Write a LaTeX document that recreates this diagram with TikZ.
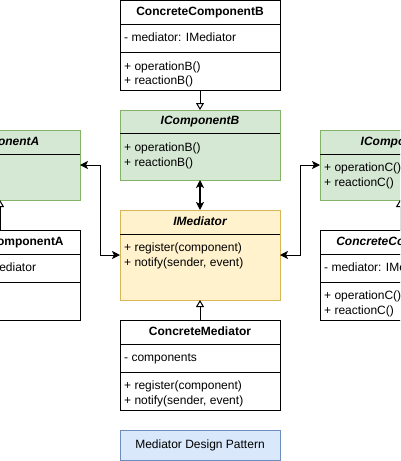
\documentclass[tikz,border=0pt]{standalone}
\usepackage{fontspec}
\setmainfont{Liberation Sans}
\usetikzlibrary{arrows.meta}
\definecolor{grnF}{HTML}{D5E8D4}\definecolor{grnD}{HTML}{82B366}
\definecolor{ylwF}{HTML}{FFF2CC}\definecolor{ylwD}{HTML}{D6B656}
\definecolor{bluF}{HTML}{DAE8FC}\definecolor{bluD}{HTML}{6C8EBF}
\tikzset{
  cls/.style={draw=black, fill=white, line width=1pt, minimum width=160pt, inner sep=0pt, outer sep=0pt, anchor=north},
  grn/.style={cls, draw=grnD, fill=grnF},
  ylw/.style={cls, draw=ylwD, fill=ylwF},
  blu/.style={cls, draw=bluD, fill=bluF},
  hdr/.style={font=\fontsize{12}{14.4}\selectfont\bfseries, inner sep=0pt, text height=8.6pt, text depth=2.4pt},
  hdri/.style={hdr, font=\fontsize{12}{14.4}\selectfont\bfseries\itshape},
  atxt/.style={font=\fontsize{12}{14.4}\selectfont, inner sep=0pt, anchor=west, text height=8.6pt, text depth=2.4pt},
  mtxt/.style={font=\fontsize{12}{14.4}\selectfont, inner sep=0pt, anchor=north west, align=left},
  clsep/.style={line width=1pt, draw=black},
  inh/.style={line width=1pt, -{Triangle[open, length=7pt, width=8pt, fill=white]}},
  bi/.style={line width=1pt, {Stealth[length=8pt, width=8pt, inset=2pt]}-{Stealth[length=8pt, width=8pt, inset=2pt]}},
}
\begin{document}
\begin{tikzpicture}[x=1pt, y=-1pt]
\clip (0,0) rectangle (400,461);
\fill[white] (0,0) rectangle (400,461);

% ConcreteComponentB
\node[cls, minimum height=90pt] (ccb) at (200,0.5) {};
\node[hdr] (ccb-h) at ([yshift=-12pt]ccb.north) {ConcreteComponentB};
\draw[clsep] ([yshift=-24pt]ccb.north west) -- ([yshift=-24pt]ccb.north east);
\node[atxt] (ccb-a) at ([xshift=4pt, yshift=-38pt]ccb.north west) {- mediator: IMediator};
\draw[clsep] ([yshift=-52pt]ccb.north west) -- ([yshift=-52pt]ccb.north east);
\node[mtxt] (ccb-m) at ([xshift=4pt, yshift=-61pt]ccb.north west) {+ operationB()\\+ reactionB()};

% IComponentB
\node[grn, minimum height=70pt] (cb) at (200,110) {};
\node[hdri] (cb-h) at ([yshift=-11.5pt]cb.north) {IComponentB};
\draw[clsep] ([yshift=-23pt]cb.north west) -- ([yshift=-23pt]cb.north east);
\node[mtxt] (cb-m) at ([xshift=4pt, yshift=-33pt]cb.north west) {+ operationB()\\+ reactionB()};

% IMediator
\node[ylw, minimum height=90pt] (med) at (200,210) {};
\node[hdri] (med-h) at ([yshift=-12pt]med.north) {IMediator};
\draw[clsep] ([yshift=-24pt]med.north west) -- ([yshift=-24pt]med.north east);
\node[mtxt] (med-m) at ([xshift=4pt, yshift=-33pt]med.north west) {+ register(component)\\+ notify(sender, event)};

% ConcreteMediator
\node[cls, minimum height=90pt] (cm) at (200,320) {};
\node[hdr] (cm-h) at ([yshift=-12pt]cm.north) {ConcreteMediator};
\draw[clsep] ([yshift=-24pt]cm.north west) -- ([yshift=-24pt]cm.north east);
\node[atxt] (cm-a) at ([xshift=4pt, yshift=-38pt]cm.north west) {- components};
\draw[clsep] ([yshift=-52pt]cm.north west) -- ([yshift=-52pt]cm.north east);
\node[mtxt] (cm-m) at ([xshift=4pt, yshift=-61pt]cm.north west) {+ register(component)\\+ notify(sender, event)};

% Title
\node[blu, minimum height=30pt, font=\fontsize{12}{14.4}\selectfont] (title) at (200,430) {};
\node[atxt, anchor=center] (title-t) at (title.center) {Mediator Design Pattern};

% IComponentA
\node[grn, minimum height=70pt] (ca) at (0,130) {};
\node[hdri] (ca-h) at ([yshift=-12pt]ca.north) {IComponentA};
\draw[clsep] ([yshift=-24pt]ca.north west) -- ([yshift=-24pt]ca.north east);
\node[mtxt] (ca-m) at ([xshift=4pt, yshift=-33pt]ca.north west) {+ operationA()\\+ reactionA()};

% ConcreteComponentA
\node[cls, minimum height=90pt] (cca) at (0,230) {};
\node[hdr] (cca-h) at ([yshift=-12pt]cca.north) {ConcreteComponentA};
\draw[clsep] ([yshift=-24pt]cca.north west) -- ([yshift=-24pt]cca.north east);
\node[atxt] (cca-a) at ([xshift=4pt, yshift=-38pt]cca.north west) {- mediator: IMediator};
\draw[clsep] ([yshift=-52pt]cca.north west) -- ([yshift=-52pt]cca.north east);
\node[mtxt] (cca-m) at ([xshift=4pt, yshift=-61pt]cca.north west) {+ operationA()\\+ reactionA()};

% IComponentC
\node[grn, minimum height=70pt] (cc) at (400,130) {};
\node[hdri] (cc-h) at ([yshift=-12pt]cc.north) {IComponentC};
\draw[clsep] ([yshift=-24pt]cc.north west) -- ([yshift=-24pt]cc.north east);
\node[mtxt] (cc-m) at ([xshift=4pt, yshift=-33pt]cc.north west) {+ operationC()\\+ reactionC()};

% ConcreteComponentC
\node[cls, minimum height=90pt] (ccc) at (400,230) {};
\node[hdri] (ccc-h) at ([yshift=-12pt]ccc.north) {ConcreteComponentC};
\draw[clsep] ([yshift=-24pt]ccc.north west) -- ([yshift=-24pt]ccc.north east);
\node[atxt] (ccc-a) at ([xshift=4pt, yshift=-38pt]ccc.north west) {- mediator: IMediator};
\draw[clsep] ([yshift=-52pt]ccc.north west) -- ([yshift=-52pt]ccc.north east);
\node[mtxt] (ccc-m) at ([xshift=4pt, yshift=-61pt]ccc.north west) {+ operationC()\\+ reactionC()};

% Connectors
\draw[inh] (ccb.south) -- (cb.north);
\draw[inh] (cm.north) -- (med.south);
\draw[inh] (cca.north) -- (ca.south);
\draw[inh] (ccc.north) -- (cc.south);
\draw[bi, line width=2pt] (cb.south) -- (med.north);
\draw[bi] (med.west) -- ++(-20,0) |- (ca.east);
\draw[bi] (med.east) -- ++(20,0) |- (cc.west);
\end{tikzpicture}
\end{document}
